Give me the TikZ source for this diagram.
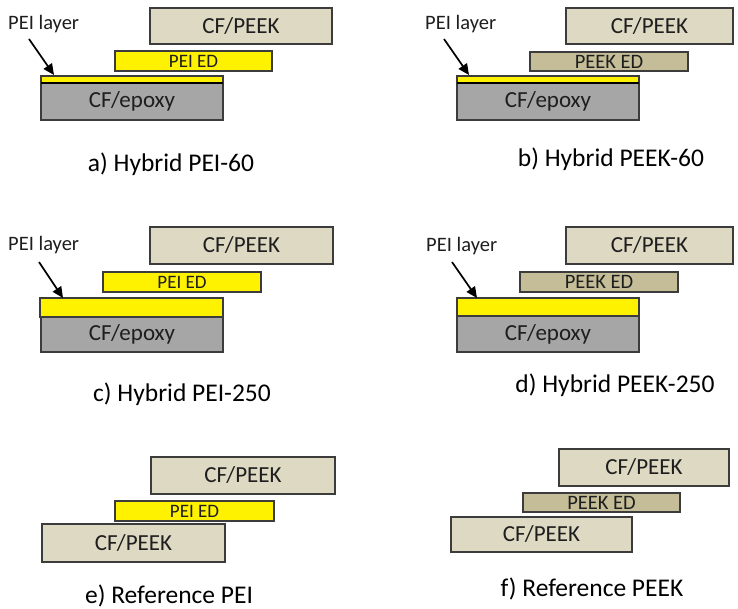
\documentclass[tikz,border=0pt]{standalone}
\usepackage{fontspec}
\setmainfont{Carlito}
\usetikzlibrary{arrows.meta}
\definecolor{tanl}{HTML}{DDD9C3}
\definecolor{tand}{HTML}{C4BD97}
\definecolor{epx}{HTML}{A6A6A6}
\definecolor{edgec}{HTML}{3C3C3C}
\definecolor{txt}{HTML}{1E1E1E}
\newcommand{\bx}[7]{\node[box,#1,minimum width={(#4-#2)*1pt},minimum height={(#5-#3)*1pt}] (#6) at (#2,#3) {#7};}
\begin{document}
\begin{tikzpicture}[x=1pt,y=-1pt,
  box/.style={draw=edgec, line width=1.1pt, anchor=north west, inner sep=0pt, outer sep=0pt, text=txt},
  peek/.style={fill=tanl, font=\fontsize{23}{24}\selectfont},
  peied/.style={fill=yellow, font=\fontsize{19}{20}\selectfont},
  peeked/.style={fill=tand, font=\fontsize{20.5}{21}\selectfont},
  epoxy/.style={fill=epx, font=\fontsize{23}{24}\selectfont},
  pei/.style={fill=yellow},
  lbl/.style={anchor=west, inner sep=0pt, text=txt, font=\fontsize{20.5}{21}\selectfont},
  caption/.style={anchor=base, inner sep=0pt, text=black, font=\fontsize{25.5}{26}\selectfont},
  pointer/.style={-{Triangle[length=11pt,width=10pt]}, line width=1.7pt, black, shorten >=0pt},
  joint/.style={line width=2pt, black}]
\useasboundingbox (0,0) rectangle (738,609);

% a) Hybrid PEI-60
\bx{peek}{150}{8}{332}{44}{apeek}{CF/PEEK}
\bx{peied}{115}{51}{272}{71}{aed}{PEI ED}
\bx{epoxy}{41}{83}{223}{120}{aepo}{CF/epoxy}
\bx{pei}{41}{76}{223}{83}{alay}{}
\draw[joint] (aepo.north west) -- (aepo.north east);
\node[lbl] (alab) at (8,24) {PEI layer};
\coordinate (as) at (29,39);
\coordinate (at) at (54,75);
\draw[pointer] (as) -- (at);
\node[caption] (capa) at (171,172) {a) Hybrid PEI-60};

% b) Hybrid PEEK-60
\bx{peek}{566}{8}{733}{44}{bpeek}{CF/PEEK}
\bx{peeked}{530}{52}{688}{71}{bed}{PEEK ED}
\bx{epoxy}{457}{83}{639}{120}{bepo}{CF/epoxy}
\bx{pei}{457}{76}{639}{83}{blay}{}
\draw[joint] (bepo.north west) -- (bepo.north east);
\node[lbl] (blab) at (425,24) {PEI layer};
\coordinate (bs) at (444,39);
\coordinate (bt) at (469,75);
\draw[pointer] (bs) -- (bt);
\node[caption] (capb) at (611,167) {b) Hybrid PEEK-60};

% c) Hybrid PEI-250
\bx{peek}{150}{227}{333}{264}{cpeek}{CF/PEEK}
\bx{peied}{103}{272}{261}{292}{ced}{PEI ED}
\bx{epoxy}{41}{317}{223}{352}{cepo}{CF/epoxy}
\bx{pei}{40}{298}{223}{317}{clay}{}
\node[lbl] (clab) at (8,245) {PEI layer};
\coordinate (cs) at (39,262);
\coordinate (ct) at (63,298);
\draw[pointer] (cs) -- (ct);
\node[caption] (capc) at (182,401) {c) Hybrid PEI-250};

% d) Hybrid PEEK-250
\bx{peek}{566}{227}{733}{264}{dpeek}{CF/PEEK}
\bx{peeked}{520}{272}{678}{292}{ded}{PEEK ED}
\bx{epoxy}{457}{316}{639}{352}{depo}{CF/epoxy}
\bx{pei}{457}{298}{639}{316}{dlay}{}
\node[lbl] (dlab) at (426,246) {PEI layer};
\coordinate (ds) at (452,262);
\coordinate (dt) at (477,298);
\draw[pointer] (ds) -- (dt);
\node[caption] (capd) at (615,392) {d) Hybrid PEEK-250};

% e) Reference PEI
\bx{peek}{151}{457}{335}{494}{epeek}{CF/PEEK}
\bx{peied}{115}{501}{274}{521}{eed}{PEI ED}
\bx{peek}{42}{524}{225}{562}{ebot}{CF/PEEK}
\node[caption] (cape) at (169,603) {e) Reference PEI};

% f) Reference PEEK
\bx{peek}{559}{449}{729}{486}{fpeek}{CF/PEEK}
\bx{peeked}{523}{493}{680}{512}{fed}{PEEK ED}
\bx{peek}{451}{517}{632}{552}{fbot}{CF/PEEK}
\node[caption] (capf) at (592,596) {f) Reference PEEK};
\end{tikzpicture}
\end{document}
